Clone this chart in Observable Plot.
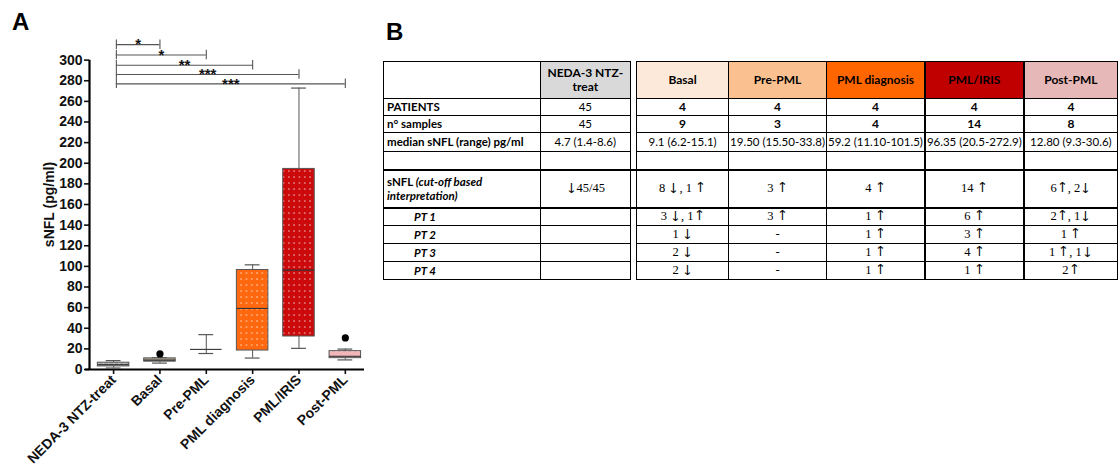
<!DOCTYPE html>
<html><head><meta charset="utf-8">
<script src="https://cdn.jsdelivr.net/npm/d3@7"></script>
<script src="https://cdn.jsdelivr.net/npm/@observablehq/plot@0.6"></script>
<style>
@font-face{font-family:"ArrowGlyphs";src:local("DejaVu Sans");unicode-range:U+2190-21FF;}
body{margin:0;width:1118px;height:472px;overflow:hidden;background:#fff;position:relative;}
.letter{position:absolute;font:bold 24px "Liberation Sans",Arial,sans-serif;color:#000;}
#chartA{position:absolute;left:0;top:0;}
#tableB{position:absolute;left:383px;top:61px;}
table{border-collapse:collapse;table-layout:fixed;font-family:Lato,"Open Sans",sans-serif;font-size:11.5px;color:#000;}
td{border:1px solid #000;padding:0 1px;text-align:center;white-space:nowrap;overflow:visible;line-height:1.15;}
td.lab{text-align:left;font-weight:bold;padding-left:3px;}
td.pt{text-align:left;font-weight:bold;font-style:italic;padding-left:30px;}
td.hd{font-weight:bold;white-space:normal;font-size:12px;}
td.sp{border-top:none;border-bottom:none;border-left:1.5px solid #000;border-right:1.5px solid #000;padding:0;}
td.b{font-weight:bold;font-size:12px;}
td.arr{font-family:"ArrowGlyphs","Liberation Serif","DejaVu Serif",serif;font-size:12.5px;line-height:1.05;}
</style>
</head><body>
<div class="letter" style="left:12px;top:8px;">A</div>
<div class="letter" style="left:386px;top:18px;">B</div>
<div id="chartA"></div>
<div id="tableB"></div>
<script>
// ---------- Panel A data ----------
const categories = ["NEDA-3 NTZ-treat", "Basal", "Pre-PML", "PML diagnosis", "PML/IRIS", "Post-PML"];
const whiskerLow  = [1.4, 6.2, 15.5, 11.1, 20.5, 9.3];
const q1          = [3.0, 7.6, null, 18.4, 32.0, 11.0];
const medians     = [4.7, 9.1, 19.5, 59.2, 96.35, 12.8];
const q3          = [6.6, 10.8, null, 96.5, 194.5, 17.8];
const whiskerHigh = [8.6, 11.5, 33.8, 101.5, 272.9, 19.8];
const boxColors   = ["#a9a9a9", "#b5a898", "none", "#ff680f", "#cc0a0c", "#f2b6b8"];
const outlierGroups = ["Basal", "Post-PML"];
const outlierValues = [15.1, 30.6];
const compFrom   = ["NEDA-3 NTZ-treat", "NEDA-3 NTZ-treat", "NEDA-3 NTZ-treat", "NEDA-3 NTZ-treat", "NEDA-3 NTZ-treat"];
const compTo     = ["Basal", "Pre-PML", "PML diagnosis", "PML/IRIS", "Post-PML"];
const compLevel  = [315, 305, 295, 286, 277];
const compLabel  = ["*", "*", "**", "***", "***"];
const yTicks = d3.range(0, 301, 20);

// ---------- Panel B data ----------
const headerColors = ["#d9d9d9", "#fde9d9", "#fac090", "#ff6600", "#c00000", "#e6b8b7"];
const rowPatients  = ["45", "4", "4", "4", "4", "4"];
const rowSamples   = ["45", "9", "3", "4", "14", "8"];
const rowMedian    = ["4.7 (1.4-8.6)", "9.1 (6.2-15.1)", "19.50 (15.50-33.8)", "59.2 (11.10-101.5)", "96.35 (20.5-272.9)", "12.80 (9.3-30.6)"];
const rowCutoff    = ["↓45/45", "8 ↓, 1 ↑", "3 ↑", "4 ↑", "14 ↑", "6↑, 2↓"];
const ptLabels     = ["PT 1", "PT 2", "PT 3", "PT 4"];
const ptRows = [
  ["", "3 ↓, 1↑", "3 ↑", "1 ↑", "6 ↑", "2↑, 1↓"],
  ["", "1 ↓", "-", "1 ↑", "3 ↑", "1 ↑"],
  ["", "2 ↓", "-", "1 ↑", "4 ↑", "1 ↑, 1↓"],
  ["", "2 ↓", "-", "1 ↑", "1 ↑", "2↑"]
];

// ---------- Panel A ----------
const idx = d3.range(categories.length);
const boxIdx = idx.filter(i => q1[i] != null);
const xDomain = [-0.52, 5.5];
const comps = compTo.map((t, k) => ({from: categories.indexOf(compFrom[k]) + 0.06, to: categories.indexOf(t), level: compLevel[k], label: compLabel[k]}));
const outliers = outlierGroups.map((g, k) => ({x: categories.indexOf(g), y: outlierValues[k]}));

const chart = Plot.plot({
  width: 380, height: 472,
  marginLeft: 89, marginRight: 12, marginTop: 39, marginBottom: 103,
  style: {fontFamily: "'Liberation Sans', Arial, sans-serif", fontSize: "14px", fontWeight: "bold", color: "#111", overflow: "visible", background: "transparent"},
  x: {domain: xDomain},
  y: {domain: [0, 320]},
  marks: [
    Plot.axisY({ticks: yTicks, tickSize: 5, tickPadding: 2, strokeWidth: 1.6, label: "sNFL (pg/ml)", labelAnchor: "center", labelOffset: 45, labelArrow: "none", fontSize: 14}),
    Plot.axisX({ticks: idx, tickFormat: i => categories[i], tickRotate: -45, tickSize: 5, tickPadding: 3, strokeWidth: 1.6, label: null, fontSize: 14}),
    Plot.ruleX([xDomain[0]], {y1: 0, y2: 300, strokeWidth: 2.2, stroke: "#000"}),
    Plot.ruleY([0], {strokeWidth: 2.2, stroke: "#000", dx: -4}),
    // whiskers
    Plot.ruleX(idx, {x: i => i, y1: i => whiskerLow[i], y2: i => whiskerHigh[i], stroke: "#555", strokeWidth: 1}),
    Plot.ruleY(idx, {y: i => whiskerLow[i], x1: i => i - 0.16, x2: i => i + 0.16, stroke: "#555", strokeWidth: 1.2}),
    Plot.ruleY(idx, {y: i => whiskerHigh[i], x1: i => i - 0.16, x2: i => i + 0.16, stroke: "#555", strokeWidth: 1.2}),
    // boxes
    ...boxIdx.map(i => Plot.rect([i], {x1: d => d - 0.34, x2: d => d + 0.34, y1: d => q1[d], y2: d => q3[d], fill: `url(#dots${i})`, stroke: "#555", strokeWidth: 1})),
    // medians
    Plot.ruleY(idx, {y: i => medians[i], x1: i => i - 0.34, x2: i => i + 0.34, stroke: "#333", strokeWidth: 1.1}),
    // outliers
    Plot.dot(outliers, {x: "x", y: "y", r: 3.6, fill: "#000", stroke: "none"}),
    // significance brackets
    Plot.ruleY(comps, {y: "level", x1: "from", x2: "to", stroke: "#555", strokeWidth: 1.1}),
    Plot.ruleX(comps, {x: "from", y1: d => d.level - 4.6, y2: d => d.level + 4.6, stroke: "#555", strokeWidth: 1.1}),
    Plot.ruleX(comps, {x: "to", y1: d => d.level - 4.6, y2: d => d.level + 4.6, stroke: "#555", strokeWidth: 1.1}),
    Plot.text(comps, {x: d => (d.from + d.to) / 2, y: "level", text: "label", fontSize: 15, fontWeight: "bold", fill: "#111", lineAnchor: "middle"})
  ]
});
const defs = d3.select(chart).insert("defs", ":first-child");
boxIdx.forEach(i => {
  const p = defs.append("pattern").attr("id", "dots" + i).attr("patternUnits", "userSpaceOnUse").attr("width", 5.3).attr("height", 6);
  p.append("rect").attr("width", 5.3).attr("height", 6).attr("fill", boxColors[i]);
  p.append("rect").attr("x", 2).attr("y", 2.4).attr("width", 1.3).attr("height", 1.3).attr("fill", "#fff").attr("opacity", 0.75);
});
document.getElementById("chartA").appendChild(chart);

// ---------- Panel B (table) ----------
const colWidths = [159, 94, 7, 95, 98, 97, 96, 95];
const t = d3.select("#tableB").append("table");
const cg = t.append("colgroup");
colWidths.forEach(w => cg.append("col").style("width", w + "px"));
const thickLeft = k => (k === 4 || k === 5) ? "2px solid #000" : null;
function addRow(label, labelClass, values, height, cellClass, rowStyle) {
  const tr = t.append("tr").style("height", height + "px");
  const lab = tr.append("td").attr("class", labelClass);
  if (typeof label === "function") label(lab); else lab.text(label);
  values.forEach((v, k) => {
    if (k === 1) tr.append("td").attr("class", "sp");
    const td = tr.append("td").attr("class", typeof cellClass === "function" ? cellClass(k) : cellClass).text(v);
    if (thickLeft(k)) td.style("border-left", thickLeft(k));
  });
  if (rowStyle) tr.selectAll("td").style("border-top", rowStyle);
  return tr;
}
const hdr = addRow("", "lab", categories, 37, "hd");
hdr.selectAll("td.hd").each(function(d, k) { d3.select(this).style("background", headerColors[k]); });
addRow("PATIENTS", "lab", rowPatients, 17, k => k === 0 ? "" : "b");
addRow("n° samples", "lab", rowSamples, 17, k => k === 0 ? "" : "b");
addRow("median sNFL (range) pg/ml", "lab", rowMedian, 19, "");
addRow("", "lab", ["", "", "", "", "", ""], 18, "");
addRow(td => {
  td.append("span").text("sNFL ");
  td.append("i").text("(cut-off based");
  td.append("br");
  td.append("i").text("interpretation)");
}, "lab", rowCutoff, 38, "arr", "2.5px solid #000");
ptRows.forEach((r, j) => addRow(ptLabels[j], "pt", r, 18, "arr", j === 0 ? "2px solid #000" : null));
</script>
</body></html>
